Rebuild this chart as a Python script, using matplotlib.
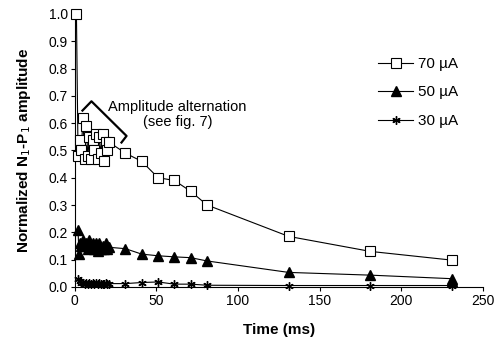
import matplotlib
matplotlib.use('Agg')
import matplotlib.pyplot as plt

plt.rcParams['font.family'] = ['Liberation Sans', 'DejaVu Sans']

# interstimulus times (ms)
t_70 = [1, 2, 3, 4, 5, 6, 7, 8, 9, 10, 11, 12, 13, 14, 15, 16, 17, 18, 19, 20, 21,
        31, 41, 51, 61, 71, 81, 131, 181, 231]
amp_70 = [1.0, 0.48, 0.54, 0.50, 0.62, 0.47, 0.59, 0.48, 0.55, 0.47, 0.54, 0.50,
          0.56, 0.47, 0.55, 0.49, 0.56, 0.46, 0.53, 0.50, 0.53,
          0.49, 0.46, 0.40, 0.39, 0.35, 0.30, 0.185, 0.13, 0.098]

t_50 = [2, 2.5, 3, 4, 5, 6, 7, 8, 9, 10, 11, 12, 13, 14, 15, 16, 17, 18, 19, 20, 21,
        31, 41, 51, 61, 71, 81, 131, 181, 231, 231]
amp_50 = [0.21, 0.12, 0.16, 0.15, 0.17, 0.15, 0.16, 0.14, 0.17, 0.15, 0.16, 0.14,
          0.16, 0.13, 0.16, 0.14, 0.15, 0.14, 0.16, 0.14, 0.145,
          0.14, 0.12, 0.114, 0.11, 0.107, 0.095, 0.053, 0.043, 0.03, 0.02]

t_30 = [2, 3, 4, 5, 6, 7, 8, 9, 10, 11, 12, 13, 14, 15, 16, 17, 18, 19, 20, 21,
        31, 41, 51, 61, 71, 81, 131, 181, 231]
amp_30 = [0.03, 0.02, 0.015, 0.015, 0.012, 0.014, 0.012, 0.013, 0.012, 0.013, 0.012,
          0.013, 0.012, 0.013, 0.012, 0.012, 0.012, 0.013, 0.012, 0.012,
          0.012, 0.016, 0.018, 0.01, 0.01, 0.006, 0.005, 0.005, 0.005]

x_ticks = [0, 50, 100, 150, 200, 250]
y_ticks = [0.0, 0.1, 0.2, 0.3, 0.4, 0.5, 0.6, 0.7, 0.8, 0.9, 1.0]

fig = plt.figure(figsize=(5.02, 3.49), dpi=100)
ax = fig.add_axes([0.149, 0.178, 0.813, 0.782])

ax.plot(t_70, amp_70, color='black', lw=0.8, marker='s', ms=6.5,
        mfc='white', mec='black', mew=0.8, label='70 \u00b5A', clip_on=False, zorder=3)
ax.plot(t_50, amp_50, color='black', lw=0.8, marker='^', ms=7,
        mfc='black', mec='black', label='50 \u00b5A', clip_on=False, zorder=3)
ax.plot(t_30, amp_30, color='black', lw=0.8, marker=(6, 2, 0), ms=6,
        mec='black', mew=1.0, label='30 \u00b5A', clip_on=False, zorder=3)

# bracket marking the alternation region
ax.plot([4.7, 10.2, 31.7, 28.6], [0.646, 0.68, 0.553, 0.529], color='black', lw=1.6)
ax.text(63, 0.632, 'Amplitude alternation\n(see fig. 7)', ha='center', va='center',
        fontsize=10.5, linespacing=1.1)

ax.set_xlim(0, 250)
ax.set_ylim(0, 1.0)
ax.set_xticks(x_ticks)
ax.set_yticks(y_ticks)
ax.set_yticklabels([f'{v:.1f}' for v in y_ticks])
ax.tick_params(direction='out', length=3, width=0.8, labelsize=10, pad=2)
for s in ['top', 'right']:
    ax.spines[s].set_visible(False)
for s in ['left', 'bottom']:
    ax.spines[s].set_linewidth(0.8)

ax.set_xlabel('Time (ms)', fontsize=11, fontweight='bold', labelpad=11)
ax.set_ylabel('Normalized N$_1$-P$_1$ amplitude', fontsize=11, fontweight='bold', labelpad=11)

ax.legend(loc='upper left', bbox_to_anchor=(0.728, 0.865), frameon=False, fontsize=11,
          handlelength=2.3, handletextpad=0.3, labelspacing=0.95, borderaxespad=0)

fig.savefig('out.png', dpi=100)
